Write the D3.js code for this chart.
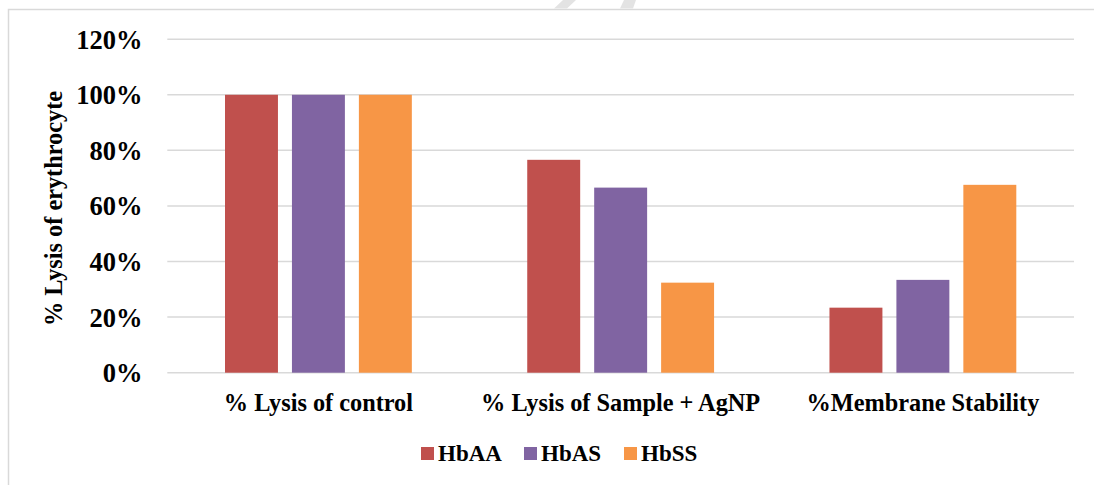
<!DOCTYPE html>
<html>
<head>
<meta charset="utf-8">
<script src="https://cdn.jsdelivr.net/npm/d3@7"></script>
<style>
  html, body { margin: 0; padding: 0; background: #fff; }
  svg { display: block; }
  text { font-family: "Liberation Serif", "Times New Roman", serif; font-weight: bold; fill: #000; }
</style>
</head>
<body>
<svg id="chart" width="1094" height="485"></svg>
<script>
const categories = ["% Lysis of control", "% Lysis of Sample + AgNP", "%Membrane Stability"];
const seriesNames = ["HbAA", "HbAS", "HbSS"];
const HbAA = [100, 76.6, 23.4];
const HbAS = [100, 66.6, 33.4];
const HbSS = [100, 32.4, 67.6];
const seriesValues = [HbAA, HbAS, HbSS];
const colors = ["#C0504D", "#8064A2", "#F79646"];
const yTicks = [0, 20, 40, 60, 80, 100, 120];

const svg = d3.select("#chart");
const W = 1094, H = 485;

// outer chart border
svg.append("rect")
  .attr("x", 8.5).attr("y", 9.5)
  .attr("width", W + 10).attr("height", H + 10)
  .attr("fill", "#fff").attr("stroke", "#d9d9d9").attr("stroke-width", 1.5);

// faint watermark fragments at the top
const wm = svg.append("g").attr("fill", "#e3e3e3");
wm.append("polygon").attr("points", "563,0 576,0 567,8.5 554,8.5");
wm.append("polygon").attr("points", "624,0 636,0 633,8.5 620,8.5");

const plot = { left: 167.3, right: 1074, top: 39.2, bottom: 372.7 };

const x = d3.scaleBand().domain(categories).range([plot.left, plot.right]).padding(0);
const y = d3.scaleLinear().domain([0, 120]).range([plot.bottom, plot.top]);

const groupOuter = 57.7;
const xs = d3.scaleBand().domain(seriesNames)
  .range([groupOuter, x.bandwidth() - groupOuter])
  .paddingInner(0.209).paddingOuter(0);

// gridlines
svg.append("g").selectAll("line").data(yTicks).join("line")
  .attr("x1", plot.left).attr("x2", plot.right)
  .attr("y1", d => y(d)).attr("y2", d => y(d))
  .attr("stroke", "#d9d9d9").attr("stroke-width", 1.5);

// y tick labels
const yAxis = d3.axisLeft(y).tickValues(yTicks).tickFormat(d => d + "%").tickSize(0).tickPadding(0);
const ya = svg.append("g").attr("transform", `translate(142.5,0)`).call(yAxis);
ya.select(".domain").remove();
ya.selectAll("text")
  .style("font-family", '"Liberation Serif", "Times New Roman", serif')
  .style("font-weight", "bold").style("font-size", "26.5px").attr("fill", "#000")
  .attr("dy", "0.34em");

// bars
const groups = svg.append("g").selectAll("g").data(categories).join("g")
  .attr("transform", d => `translate(${x(d)},0)`);
groups.selectAll("rect")
  .data((c, i) => seriesNames.map((s, j) => ({ s, v: seriesValues[j][i], j })))
  .join("rect")
  .attr("x", d => xs(d.s))
  .attr("width", xs.bandwidth())
  .attr("y", d => y(d.v))
  .attr("height", d => y(0) - y(d.v))
  .attr("fill", d => colors[d.j]);

// category labels
const xAxis = d3.axisBottom(x).tickSize(0).tickPadding(0);
const xa = svg.append("g").attr("transform", `translate(0,${plot.bottom})`).call(xAxis);
xa.select(".domain").remove();
xa.selectAll("text")
  .style("font-family", '"Liberation Serif", "Times New Roman", serif')
  .style("font-weight", "bold").style("font-size", "24.3px").attr("fill", "#000")
  .attr("dy", null).attr("y", 38.5);

// y axis title
svg.append("text")
  .attr("transform", "translate(62,208.5) rotate(-90)")
  .attr("text-anchor", "middle")
  .style("font-size", "24.3px")
  .text("% Lysis of erythrocyte");

// legend
const legendX = [421, 524, 624];
const lg = svg.append("g").selectAll("g").data(seriesNames).join("g")
  .attr("transform", (d, i) => `translate(${legendX[i]},0)`);
lg.append("rect").attr("x", 0).attr("y", 447).attr("width", 13).attr("height", 13)
  .attr("fill", (d, i) => colors[i]);
lg.append("text").attr("x", 17).attr("y", 461)
  .style("font-size", "23px").text(d => d);
</script>
</body>
</html>
